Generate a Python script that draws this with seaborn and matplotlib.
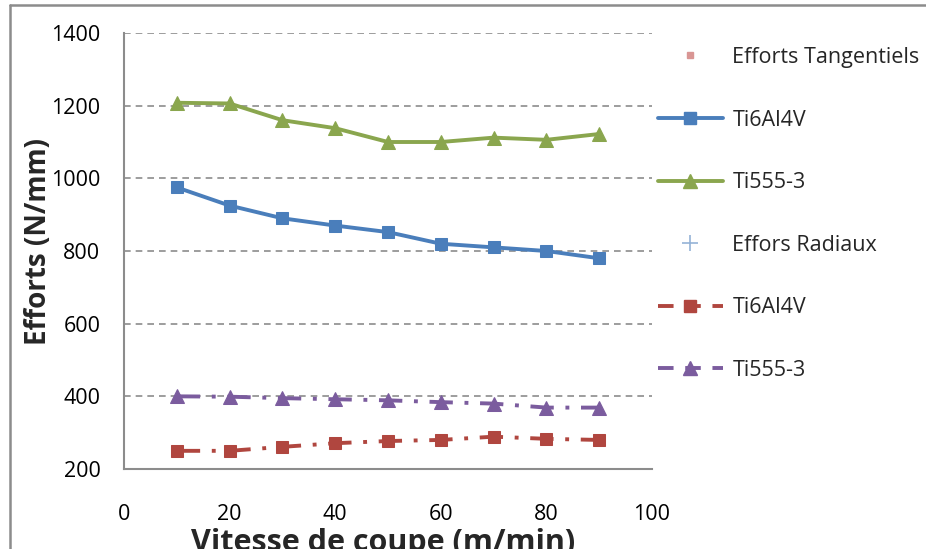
import matplotlib
matplotlib.use("Agg")
import matplotlib.pyplot as plt
from matplotlib.lines import Line2D
import seaborn as sns
import pandas as pd

sns.set_style("white")
plt.rcParams['font.family'] = ['Open Sans', 'DejaVu Sans']

vitesse = [10, 20, 30, 40, 50, 60, 70, 80, 90]
tang_ti6al4v = [975, 925, 890, 870, 852, 820, 810, 800, 780]
tang_ti555 = [1208, 1206, 1160, 1138, 1100, 1100, 1112, 1106, 1122]
rad_ti6al4v = [250, 250, 261, 271, 277, 280, 289, 283, 280]
rad_ti555 = [400, 399, 395, 392, 389, 384, 380, 369, 369]

labels = ["Efforts Tangentiels", "Ti6Al4V", "Ti555-3", "Effors Radiaux", "Ti6Al4V", "Ti555-3"]
y_ticks = [200, 400, 600, 800, 1000, 1200, 1400]
x_ticks = [0, 20, 40, 60, 80, 100]

BLUE = "#4A7EBB"
GREEN = "#8AA64E"
RED = "#B0463F"
PURPLE = "#7B5C9E"
GRID = "#8C8C8C"
AXIS = "#8C8C8C"

fig = plt.figure(figsize=(9.26, 5.49), dpi=100)
ax = fig.add_axes([124/926, 80/549, (652-124)/926, (469-33)/549])

dashdot = (6, 3, 1, 3)

series = [
    (tang_ti6al4v, BLUE, "s", 9, None),
    (tang_ti555, GREEN, "^", 10.5, None),
    (rad_ti6al4v, RED, "s", 9, dashdot),
    (rad_ti555, PURPLE, "^", 10.5, dashdot),
]
for vals, col, mk, ms, dash in series:
    df = pd.DataFrame({"x": vitesse, "y": vals})
    sns.lineplot(data=df, x="x", y="y", ax=ax, color=col, marker=mk, markersize=ms,
                 markeredgecolor=col, linewidth=2.8, legend=False)
    if dash is not None:
        ax.lines[-1].set_dashes(dash)

ax.set_xlim(0, 100)
ax.set_ylim(200, 1400)
ax.set_xticks(x_ticks)
ax.set_yticks(y_ticks)
ax.yaxis.grid(True, linestyle=(0, (4, 3)), color=GRID, linewidth=1.2)
ax.xaxis.grid(False)
ax.set_axisbelow(True)
for s in ["top", "right"]:
    ax.spines[s].set_visible(False)
for s in ["left", "bottom"]:
    ax.spines[s].set_color(AXIS)
    ax.spines[s].set_linewidth(1.5)
ax.tick_params(axis="both", which="major", length=6, width=1.5, color=AXIS,
               labelsize=15.5, labelcolor="black", direction="out")
ax.tick_params(axis="x", pad=19)
ax.tick_params(axis="y", pad=11)

ax.set_xlabel("Vitesse de coupe (m/min)", fontsize=22, fontweight="bold", va="top")
ax.xaxis.set_label_coords(0.49, (469 - 528) / 436)
ax.set_ylabel("Efforts (N/mm)", fontsize=20, fontweight="bold", va="center")
ax.yaxis.set_label_coords((38 - 124) / 528, (469 - 242) / 436)

handles = [
    Line2D([], [], linestyle="none", marker="s", markersize=5, color="#D99694"),
    Line2D([], [], color=BLUE, marker="s", markersize=9, linewidth=2.8),
    Line2D([], [], color=GREEN, marker="^", markersize=10.5, linewidth=2.8),
    Line2D([], [], linestyle="none", marker="+", markersize=11, markeredgewidth=1.2, color="#95B3D7"),
    Line2D([], [], color=RED, marker="s", markersize=9, linewidth=2.8, dashes=(4, 3)),
    Line2D([], [], color=PURPLE, marker="^", markersize=10.5, linewidth=2.8, dashes=(4, 3)),
]
fig.legend(handles, labels, loc="upper left", bbox_to_anchor=(658/926, 1 - 47/549),
           frameon=False, fontsize=15.5, handlelength=3.0, handletextpad=0.46,
           labelspacing=1.93, borderaxespad=0, borderpad=0)

bx = 10/926
ty = 1 - 5/549
fig.add_artist(Line2D([bx, bx], [0, ty], color="#8C8C8C", linewidth=1.8, transform=fig.transFigure))
fig.add_artist(Line2D([bx, 1], [ty, ty], color="#8C8C8C", linewidth=1.8, transform=fig.transFigure))

fig.savefig("out.png", dpi=100)
